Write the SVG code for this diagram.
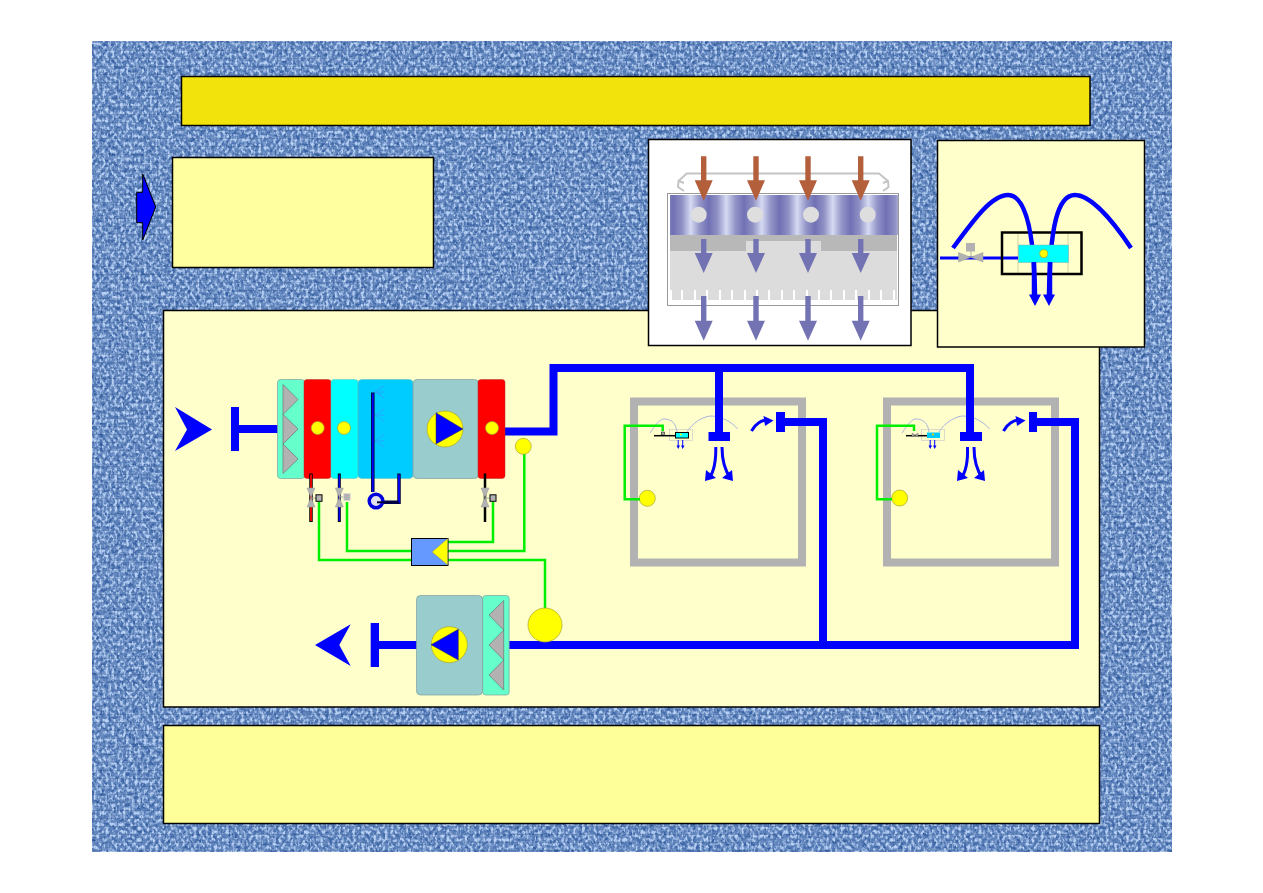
<svg xmlns="http://www.w3.org/2000/svg" width="1263" height="893" viewBox="0 0 1263 893">
<style>
.panel{stroke:#000;stroke-width:1.5}
.duct{fill:none;stroke:#00f;stroke-width:8}
.sig{fill:none;stroke:#00ee00;stroke-width:2.500}
.sun{fill:#ff0;stroke:#a9a332;stroke-width:.7}
.unit{stroke:#7f9f9f;stroke-width:.7}
.fin{fill:#b2b2b2;stroke:#666;stroke-width:.6}
.valve{fill:#b2b2b2;stroke:#999;stroke-width:.5}
.act{fill:#b2b2b2;stroke:#000;stroke-width:1}
.spray{fill:none;stroke:#39f;stroke-width:.7}
.air{fill:none;stroke:#00f}
.arc{fill:none;stroke:#aab4e0;stroke-width:1}
.solid{fill:#00f}
.warm{fill:#b45f3c}
.cool{fill:#7373b3}
</style>
<defs>
<filter id="cloth" x="0" y="0" width="100%" height="100%" color-interpolation-filters="sRGB">
<feTurbulence type="fractalNoise" baseFrequency="0.24 0.3" numOctaves="2" seed="7"/>
<feColorMatrix type="matrix" values="0 0 0 0 .22  0 0 0 0 .38  0 0 0 0 .64  3.2 0 0 0 -1.35"/>
</filter>
<filter id="flecks" x="0" y="0" width="100%" height="100%" color-interpolation-filters="sRGB">
<feTurbulence type="fractalNoise" baseFrequency="0.34 0.26" numOctaves="2" seed="23"/>
<feColorMatrix type="matrix" values="0 0 0 0 .72  0 0 0 0 .82  0 0 0 0 .96  0 3.6 0 0 -1.55"/>
</filter>
<pattern id="weave" width="8" height="8" patternUnits="userSpaceOnUse">
<path d="M0 2.500H8" stroke="#2c4c82" stroke-width="1" opacity=".24"/>
<path d="M5.500 0V8" stroke="#2c4c82" stroke-width="1" opacity=".18"/>
</pattern>
<linearGradient id="fins" gradientUnits="userSpaceOnUse" x1="673" y1="0" x2="708.500" y2="0" spreadMethod="repeat">
<stop offset="0" stop-color="#7070b4"/>
<stop offset=".25" stop-color="#8f90c4"/>
<stop offset=".5" stop-color="#d6daf2"/>
<stop offset=".75" stop-color="#9496c8"/>
<stop offset="1" stop-color="#7070b4"/>
</linearGradient>
<g id="downWarm"><path class="warm" d="M-2.700-44.500H2.700V-20.500H9L0 0-9-20.500H-2.700Z"/></g>
<g id="downShort"><path class="cool" d="M-2.700-34H2.700V-20H9L0 0-9-20H-2.700Z"/></g>
<g id="downLong"><path class="cool" d="M-2.700-44.700H2.700V-20H9L0 0-9-20H-2.700Z"/></g>
</defs>

<g id="backdrop">
<rect x="92" y="41" width="1080" height="811" fill="#6488bf"/>
<rect x="92" y="41" width="1080" height="811" filter="url(#cloth)"/>
<rect x="92" y="41" width="1080" height="811" filter="url(#flecks)"/>
<rect x="92" y="41" width="1080" height="811" fill="url(#weave)"/>
</g>

<g id="title"><rect class="panel" x="181.500" y="76.500" width="908.500" height="49" fill="#f2e30c"/></g>
<g id="note"><rect class="panel" x="172.500" y="157.500" width="261" height="110" fill="#ffffa0"/></g>
<g id="pointer"><path d="M142.700 174 155.700 207 142.700 240V222.700H136.700V192.300H142.700Z" fill="#00f" stroke="#000" stroke-width="1"/></g>
<g id="main-panel"><rect class="panel" x="163.500" y="310.500" width="936" height="396.500" fill="#ffc"/></g>
<g id="summary"><rect class="panel" x="163.500" y="725.500" width="936" height="98" fill="#ff9"/></g>

<g id="beam-section">
<rect x="648.500" y="139.500" width="262.500" height="206" fill="#fff" stroke="#000" stroke-width="1.500"/>
<path d="M684 191 678 187 678.500 181 686.700 173.500H879L888 181 888.500 187 883 191M678.500 181 684 183M888 181 883 183" fill="none" stroke="#c4c4c4" stroke-width="2"/>
<rect x="667.500" y="193.500" width="231" height="112" fill="#fff" stroke="#999"/>
<rect x="670" y="195" width="228" height="40" fill="url(#fins)"/>
<rect x="670" y="235" width="227" height="16" fill="#b8b8b8"/>
<rect x="746" y="241" width="75" height="10" fill="#dcdcdc"/>
<rect x="670" y="251" width="227" height="49" fill="#dcdcdc"/>
<path fill="#fff" d="M668 300V290H672V300ZM681 300V290H683V300ZM694 300V290H696V300ZM706 300V290H708V300ZM719 300V290H721V300ZM731 300V290H733V300ZM744 300V290H746V300ZM756 300V290H758V300ZM768 300V290H770V300ZM781 300V290H783V300ZM793 300V290H795V300ZM806 300V290H808V300ZM818 300V290H820V300ZM830 300V290H832V300ZM843 300V290H845V300ZM855 300V290H857V300ZM868 300V290H870V300ZM880 300V290H882V300ZM893 300V290H895V300Z"/>
<g fill="#dedede"><circle cx="698.700" cy="214.700" r="8"/><circle cx="755" cy="214.700" r="8"/><circle cx="811" cy="214.700" r="8"/><circle cx="867.700" cy="214.700" r="8"/></g>
<use href="#downWarm" x="703.700" y="200.700"/><use href="#downWarm" x="756" y="200.700"/><use href="#downWarm" x="808" y="200.700"/><use href="#downWarm" x="860.700" y="200.700"/>
<use href="#downShort" x="703.700" y="273"/><use href="#downShort" x="756" y="273"/><use href="#downShort" x="808" y="273"/><use href="#downShort" x="860.700" y="273"/>
<use href="#downLong" x="703.700" y="340.700"/><use href="#downLong" x="756" y="340.700"/><use href="#downLong" x="808" y="340.700"/><use href="#downLong" x="860.700" y="340.700"/>
</g>

<g id="induction-unit">
<rect x="937.500" y="140.500" width="207" height="206.500" fill="#ffc" stroke="#000" stroke-width="1.500"/>
<path d="M1018 232V274M1068 232V274" stroke="#c4c49a" stroke-width=".8"/>
<path d="M940 258H1018" stroke="#00f" stroke-width="3"/>
<path d="M971 251V258" stroke="#aaa" stroke-width="1"/>
<rect x="966" y="243" width="9" height="8.500" fill="#b2b2b2"/>
<path class="valve" d="M958.500 252.500 983 262V252.500L958.500 262Z"/>
<path d="M1002 232.500H1081.500V274H1002Z" fill="none" stroke="#000" stroke-width="2.500"/>
<path class="air" stroke-width="4.500" d="M953 248C975 218 992 195 1008 195 1024 195 1034 225 1035 295"/>
<path class="air" stroke-width="4.500" d="M1131 248C1111 218 1090 195 1075 195 1058 195 1050 225 1049 295"/>
<rect x="1018.500" y="245" width="50" height="17.500" fill="#0ff" stroke="#8aa" stroke-width=".5"/>
<path class="air" stroke-width="4.500" d="M1034 262V295M1050 262V295"/>
<path class="solid" d="M1029 294.500H1041L1035 306ZM1043 294.500H1055L1049 306Z"/>
<circle class="sun" cx="1043.700" cy="253.700" r="4"/>
</g>

<g id="room-a">
<rect x="634" y="401.500" width="168" height="161" fill="none" stroke="#b2b2b2" stroke-width="8"/>
<rect class="solid" x="708.500" y="432" width="21.500" height="9"/>
<rect class="solid" x="776" y="412" width="9" height="20"/>
<path class="air" stroke-width="3" d="M751.500 431C755 424 762 419.700 768 420"/>
<path class="solid" d="M763.500 416 773.500 420.500 765 426Z"/>
<path class="air" stroke-width="3" d="M715.800 447C716 462 714 472 709 478M722 447C722 462 726 472 730.500 478"/>
<path class="solid" d="M705 481 706 470 716 478ZM733 481 732 470 722 478Z"/>
<path class="arc" d="M650 433C656 424 660 419 664 419 672 419 676 424 677 432M687 432C692 423 704 416 711 416 722 416 733 423 737.500 429"/>
<rect x="669.500" y="429.500" width="23" height="11" fill="none" stroke="#ccc" stroke-width=".7"/>
<path d="M654 435.700H675" stroke="#000" stroke-width="1.500"/>
<rect x="661.500" y="432" width="3" height="3" fill="#aaa" stroke="#000" stroke-width=".5"/>
<rect x="675.500" y="432.500" width="13" height="5.500" fill="#0ff" stroke="#000" stroke-width="1"/>
<circle cx="681" cy="434.500" r="1" fill="#ff0"/>
<path class="solid" d="M676.500 445.500H680L678.200 449ZM681 445.500H684.500L682.700 449Z"/>
<path d="M678.200 440V446M682.700 440V446" stroke="#00f"/>
<circle class="sun" cx="647.300" cy="498.300" r="8"/>
</g>

<g id="room-b">
<rect x="887" y="401.500" width="168" height="161" fill="none" stroke="#b2b2b2" stroke-width="8"/>
<rect class="solid" x="960" y="432" width="22" height="9"/>
<rect class="solid" x="1029" y="412" width="8" height="20"/>
<path class="air" stroke-width="3" d="M1003.500 431C1007 424 1014 419.700 1020 420"/>
<path class="solid" d="M1015.500 416 1025.500 420.500 1017 426Z"/>
<path class="air" stroke-width="3" d="M967.500 447C968 462 966 472 961 478M974 447C974 462 978 472 982.500 478"/>
<path class="solid" d="M957 481 958 470 968 478ZM985 481 984 470 974 478Z"/>
<path class="arc" d="M902 433C908 424 912 419 916 419 924 419 928 424 929 432M939 432C944 423 956 416 963 416 974 416 985 423 989.500 429"/>
<rect x="921.500" y="429.500" width="23" height="11" fill="none" stroke="#ccc" stroke-width=".7"/>
<path d="M906 435.700H927" stroke="#000" stroke-width="1.500"/>
<path d="M912 433 918 437V433L912 437Z" fill="#aaa" stroke="#666" stroke-width=".4"/>
<rect x="927" y="432.500" width="13" height="5.500" fill="#0cf"/>
<circle cx="933" cy="434.500" r="1" fill="#ff0" stroke="#a60" stroke-width=".3"/>
<path class="solid" d="M928.500 445.500H932L930.200 449ZM933 445.500H936.500L934.700 449Z"/>
<path d="M930.200 440V446M934.700 440V446" stroke="#00f"/>
<circle class="sun" cx="899.700" cy="498" r="8"/>
</g>

<g id="connectors">
<path class="duct" d="M235 429H278" stroke-width="7"/>
<path class="duct" d="M504 431.500H553.500V368H970V433M719 368V433"/>
<path class="duct" d="M785 422H823V645M1037 422H1075V645M509 645H1079M379 645H417"/>
<path class="sig" d="M319 502V560H411M347 502V551H411M493 502V542H448M524.300 453V551H448M448 560H545V610"/>
<path class="sig" d="M662.700 431V425.700H624.700V499.300H640M914 431V425.700H877V499.300H892"/>
</g>

<g id="intake-arrow"><path class="solid" d="M175 407 212 429.500 175 451 187 429.500Z"/></g>
<g id="intake-tee"><rect class="solid" x="231" y="407" width="8" height="44"/></g>
<g id="exhaust-arrow"><path class="solid" d="M315 645 350.700 624.300 339.300 645 350.700 666Z"/></g>
<g id="exhaust-tee"><rect class="solid" x="370.700" y="623" width="8.300" height="44"/></g>

<g id="supply-unit">
<rect class="unit" x="277.500" y="379.500" width="27" height="99" rx="3" fill="#6fc"/>
<path class="fin" d="M283 384.500 298 399.500 283 414.500 298 429 283 444 298 459 283 473.500Z"/>
<rect x="304" y="379.500" width="27" height="99" rx="3" fill="#f00" stroke="#a33" stroke-width=".5"/>
<circle class="sun" cx="317.700" cy="428" r="6.500"/>
<rect x="331" y="379.500" width="27" height="99" rx="3" fill="#0ff" stroke="#6bb" stroke-width=".5"/>
<circle class="sun" cx="344" cy="428" r="6.500"/>
<rect x="358" y="379.500" width="55" height="99" rx="4" fill="#0cf" stroke="#6bb" stroke-width=".5"/>
<path class="spray" d="M375 392 384 386M375 392H384M375 392 384 398M375 392 381 394M375 415 384 409M375 415H384M375 415 384 421M375 441 384 435M375 441H384M375 441 384 447"/>
<rect class="unit" x="413" y="379.500" width="65.500" height="99" rx="4" fill="#9cc"/>
<circle class="sun" cx="445" cy="429" r="18"/>
<path d="M436 412.700 463 429 436 444Z" fill="#00f" stroke="#334" stroke-width=".5"/>
<rect x="478" y="379.500" width="27" height="99" rx="3" fill="#f00" stroke="#a33" stroke-width=".5"/>
<circle class="sun" cx="492" cy="428" r="6.500"/>
</g>

<g id="heating-valve">
<path d="M311 473.500V522" stroke="#000" stroke-width="3.500"/><path d="M311 474.500V521" stroke="#f00" stroke-width="1.800"/>
<path class="valve" d="M307 488H315L307 507H315Z"/><path d="M311 498H316" stroke="#aaa"/>
<rect class="act" x="316" y="494.800" width="6" height="6.500"/>
</g>
<g id="cooling-valve">
<path d="M339.300 473.500V522" stroke="#000" stroke-width="3"/><path d="M339.300 474.500V521" stroke="#00f" stroke-width="1.600"/>
<path class="valve" d="M335.300 488H343.300L335.300 507H343.300Z"/><path d="M339 497H344" stroke="#aaa"/>
<rect x="343.700" y="493.500" width="6.500" height="7" fill="#b2b2b2" stroke="#ddd" stroke-width=".8"/>
</g>
<g id="reheat-valve">
<path d="M485 473.500V522" stroke="#000" stroke-width="2.500"/>
<path class="valve" d="M481 488H489L481 507H489Z"/><path d="M485 498H490" stroke="#aaa"/>
<rect class="act" x="490" y="494.800" width="6" height="6.500"/>
</g>
<g id="humidifier-loop">
<path d="M372.800 392.500V492M378 502.300H399V473.500" fill="none" stroke="#003" stroke-width="3.500"/>
<path d="M372.800 393.500V492M378 502.300H399V474.500" fill="none" stroke="#00f" stroke-width="1.800"/>
<circle cx="376" cy="501" r="6.800" fill="#e2e2ee" stroke="#00d" stroke-width="3.500"/>
<path d="M377 502.300H399" stroke="#003" stroke-width="2"/>
</g>
<g id="room-sensor-duct"><circle class="sun" cx="523.300" cy="446.300" r="8"/></g>
<g id="controller">
<rect x="411.500" y="538.500" width="36.500" height="27" fill="#69f" stroke="#000" stroke-width="1"/>
<path d="M447.700 538.500 432 552 447.700 565Z" fill="#ff0" stroke="#776" stroke-width=".4"/>
</g>
<g id="co2-sensor"><circle class="sun" cx="545" cy="625" r="17"/></g>

<g id="extract-unit">
<rect class="unit" x="416.500" y="595.500" width="66" height="99.500" rx="4" fill="#9cc"/>
<circle class="sun" cx="449.300" cy="644.700" r="18"/>
<path d="M431 644.700 458.300 629.300V660Z" fill="#00f" stroke="#334" stroke-width=".5"/>
<rect class="unit" x="482.700" y="595.500" width="26.500" height="99.500" rx="3" fill="#6fc"/>
<path class="fin" d="M503.700 600.500 489 615 503.700 630 489 645 503.700 660 489 675 503.700 690Z"/>
</g>
</svg>
